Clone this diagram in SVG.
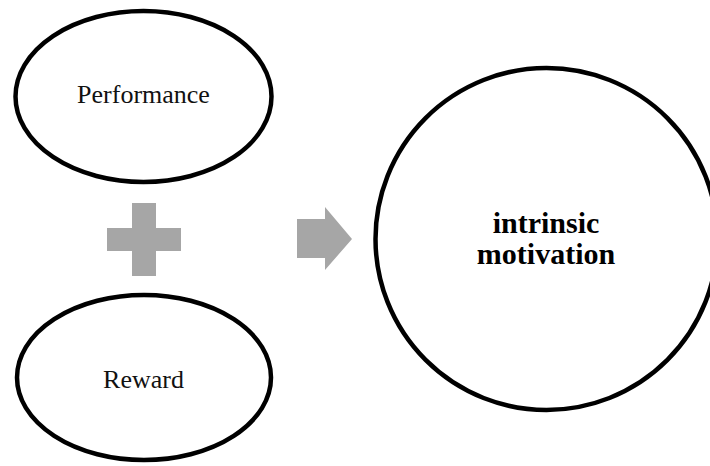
<svg xmlns="http://www.w3.org/2000/svg" width="710" height="466" viewBox="0 0 710 466">
<style>
.node{fill:#ffffff;stroke:#000000;stroke-width:4.5}
.lbl{font-family:"Liberation Serif","Times New Roman",serif;font-size:26px;fill:#111;text-anchor:middle}
.big{font-family:"Liberation Serif","Times New Roman",serif;font-size:30px;font-weight:bold;fill:#000;text-anchor:middle}
.sym{fill:#a6a6a6}
</style>
<rect width="710" height="466" fill="#ffffff"/>
<g id="performance">
<ellipse class="node" cx="143.5" cy="96.5" rx="128" ry="85.5"/>
<text class="lbl" x="143.5" y="103">Performance</text>
</g>
<g id="reward">
<ellipse class="node" cx="144" cy="377.5" rx="127" ry="82.5"/>
<text class="lbl" x="143.5" y="388">Reward</text>
</g>
<g id="motivation">
<circle class="node" cx="546.5" cy="239" r="171"/>
<text class="big" x="546" y="233">intrinsic</text>
<text class="big" x="546" y="264">motivation</text>
</g>
<g id="connectors">
<polygon class="sym" points="132,203 156,203 156,228 181,228 181,251 156,251 156,276 132,276 132,251 107,251 107,228 132,228"/>
<polygon class="sym" points="297,219 325,219 325,207 352,239 325,270 325,258 297,258"/>
</g>
</svg>
